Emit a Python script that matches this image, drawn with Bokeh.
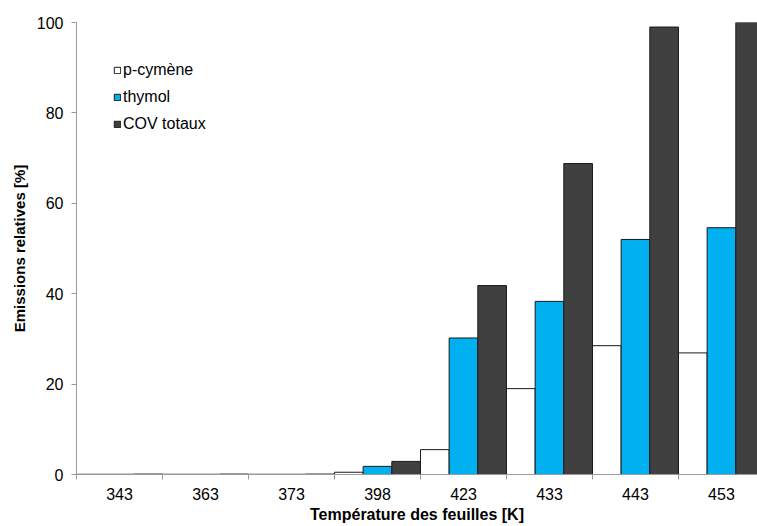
from bokeh.plotting import figure
from bokeh.models import ColumnDataSource, Range1d, FixedTicker, Legend, LegendItem
from bokeh.transform import dodge
from bokeh.embed import file_html
from bokeh.resources import INLINE

temperatures = ["343", "363", "373", "398", "423", "433", "443", "453"]
p_cymene = [0.05, 0.05, 0.05, 0.5, 5.5, 19.0, 28.5, 26.9]
thymol = [0.05, 0.05, 0.05, 1.8, 30.2, 38.3, 52.0, 54.6]
cov_totaux = [0.1, 0.1, 0.1, 2.9, 41.8, 68.8, 99.0, 100.0]
y_ticks = [0, 20, 40, 60, 80, 100]

centers = [i + 0.5 for i in range(len(temperatures))]
boundaries = [i for i in range(len(temperatures) + 1)]

src = ColumnDataSource(dict(x=centers, pc=p_cymene, th=thymol, cov=cov_totaux))

p = figure(width=757, height=526, output_backend="svg", toolbar_location=None,
           x_range=Range1d(0, 7.919), y_range=Range1d(0, 100),
           min_border_left=76, min_border_right=0, min_border_top=22, min_border_bottom=52)
p.outline_line_color = None
p.xgrid.grid_line_color = None
p.ygrid.grid_line_color = None

w = 1.0 / 3
r1 = p.vbar(x=dodge("x", -w, range=p.x_range), top="pc", width=w, source=src,
            fill_color="white", line_color="#1a1a1a", line_width=1)
r2 = p.vbar(x=dodge("x", 0, range=p.x_range), top="th", width=w, source=src,
            fill_color="#00B0F0", line_color="#1a1a1a", line_width=1)
r3 = p.vbar(x=dodge("x", w, range=p.x_range), top="cov", width=w, source=src,
            fill_color="#404040", line_color="#1a1a1a", line_width=1)

axis_col = "#9A9A9A"
font = "Liberation Sans"

xa = p.xaxis[0]
xa.ticker = FixedTicker(ticks=centers, minor_ticks=boundaries)
xa.major_label_overrides = {c: t for c, t in zip(centers, temperatures)}
xa.major_tick_line_color = None
xa.minor_tick_line_color = axis_col
xa.minor_tick_out = 5
xa.minor_tick_in = 0
xa.axis_line_color = axis_col
xa.major_label_text_font = font
xa.major_label_text_font_size = "16px"
xa.major_label_text_color = "#000000"
xa.major_label_standoff = 7
xa.axis_label = "Température des feuilles [K]"
xa.axis_label_text_font = font
xa.axis_label_text_font_style = "bold"
xa.axis_label_text_font_size = "16px"
xa.axis_label_text_color = "#000000"
xa.axis_label_standoff = 3

ya = p.yaxis[0]
ya.ticker = FixedTicker(ticks=y_ticks)
ya.major_tick_line_color = axis_col
ya.major_tick_out = 5
ya.major_tick_in = 0
ya.minor_tick_line_color = None
ya.axis_line_color = axis_col
ya.major_label_text_font = font
ya.major_label_text_font_size = "16px"
ya.major_label_text_color = "#000000"
ya.major_label_standoff = 8
ya.axis_label = "Emissions relatives [%]"
ya.axis_label_text_font = font
ya.axis_label_text_font_style = "bold"
ya.axis_label_text_font_size = "15px"
ya.axis_label_text_color = "#000000"
ya.axis_label_standoff = 6

legend = Legend(items=[LegendItem(label="p-cymène", renderers=[r1]),
                       LegendItem(label="thymol", renderers=[r2]),
                       LegendItem(label="COV totaux", renderers=[r3])],
                location=(37, 341))
legend.border_line_color = None
legend.background_fill_alpha = 0
legend.padding = 0
legend.margin = 0
legend.spacing = 9
legend.glyph_width = 8
legend.glyph_height = 8
legend.label_height = 18
legend.label_standoff = 2
legend.label_text_font = font
legend.label_text_font_size = "16px"
legend.label_text_color = "#000000"
p.add_layout(legend)

open("out.html", "w").write(file_html(p, INLINE))
